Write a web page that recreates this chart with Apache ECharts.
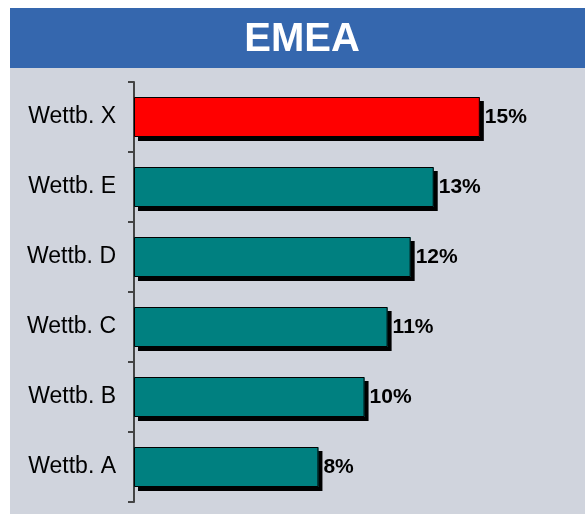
<!DOCTYPE html>
<html>
<head>
<meta charset="utf-8">
<script src="https://cdn.jsdelivr.net/npm/echarts@6/dist/echarts.min.js"></script>
<style>
html,body{margin:0;padding:0;background:#ffffff;}
#chart{width:585px;height:517px;}
</style>
</head>
<body>
<div id="chart"></div>
<script>
const titleText = 'EMEA';
const categories = ['Wettb. A', 'Wettb. B', 'Wettb. C', 'Wettb. D', 'Wettb. E', 'Wettb. X'];
const values = [8, 10, 11, 12, 13, 15];
const barColors = ['#008080', '#008080', '#008080', '#008080', '#008080', '#FF0000'];

const chart = echarts.init(document.getElementById('chart'), null, {renderer: 'canvas'});
chart.setOption({
  animation: false,
  backgroundColor: '#ffffff',
  graphic: [
    {type: 'rect', left: 10, top: 8, z: -10, shape: {width: 575, height: 60}, style: {fill: '#3567AE'}},
    {type: 'rect', left: 10, top: 68, z: -10, shape: {width: 575, height: 446}, style: {fill: '#D0D4DD'}},
    {type: 'text', x: 302, y: 40, z: 10, style: {text: titleText, fill: '#ffffff', font: 'bold 40px Arial, "Liberation Sans", sans-serif', textAlign: 'center', textVerticalAlign: 'middle'}}
  ],
  grid: {left: 134, top: 82, height: 420, width: 415, containLabel: false},
  xAxis: {type: 'value', min: 0, max: 18, show: false},
  yAxis: {
    type: 'category',
    data: categories,
    axisLine: {show: true, lineStyle: {color: '#444444', width: 2}},
    axisTick: {show: true, length: 6, lineStyle: {color: '#444444', width: 2}},
    axisLabel: {color: '#000000', fontSize: 23, fontFamily: 'Arial, "Liberation Sans", sans-serif', margin: 18},
    splitLine: {show: false}
  },
  series: [{
    type: 'bar',
    data: values.map((v, i) => ({value: v, itemStyle: {color: barColors[i]}})),
    barWidth: 40,
    itemStyle: {borderWidth: 0, shadowColor: '#000000', shadowOffsetX: 4, shadowOffsetY: 4, shadowBlur: 0},
    label: {show: true, position: 'right', distance: 5, formatter: p => p.value + '%', color: '#000000', fontSize: 21, fontWeight: 'bold', fontFamily: 'Arial, "Liberation Sans", sans-serif'}
  }, {
    type: 'bar',
    data: values,
    barWidth: 40,
    barGap: '-100%',
    silent: true,
    itemStyle: {color: 'rgba(0,0,0,0)', borderColor: '#000000', borderWidth: 1}
  }]
});
</script>
</body>
</html>
